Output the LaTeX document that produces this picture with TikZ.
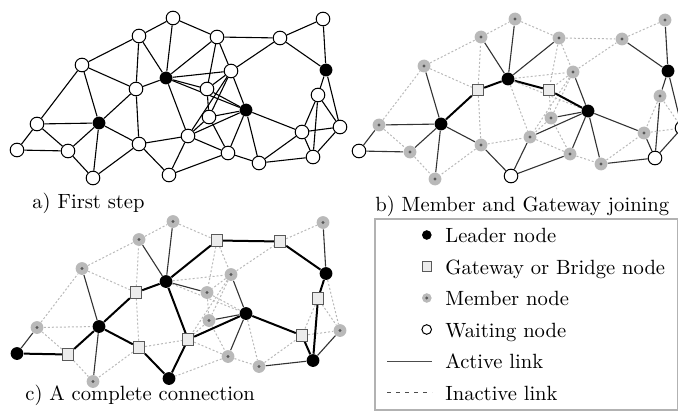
\documentclass[tikz,border=0pt]{standalone}
\usetikzlibrary{positioning,backgrounds}

% node: number / x / y / role in a) / role in b) / role in c)
\def\netnodes{1/17/150/waiting/waiting/leader, 2/37/124/waiting/member/member,
  3/68/151/waiting/member/gateway, 4/99/123/leader/leader/leader,
  5/82/65/waiting/member/member, 6/136/89/waiting/gateway/gateway,
  7/139/36/waiting/member/member, 8/139/144/waiting/member/gateway,
  9/166/78/leader/leader/leader, 10/173/18/waiting/member/member,
  11/217/37/waiting/member/gateway, 12/231/71/waiting/member/member,
  13/207/89/waiting/gateway/member, 14/209/117/waiting/member/member,
  15/188/136/waiting/member/gateway, 16/246/110/leader/leader/leader,
  17/228/153/waiting/member/member, 18/259/163/waiting/member/member,
  19/280/38/waiting/member/gateway, 20/323/19/waiting/member/member,
  21/326/70/leader/leader/leader, 22/318/95/waiting/member/gateway,
  23/302/132/waiting/member/gateway, 24/340/127/waiting/waiting/member,
  25/313/157/waiting/waiting/leader, 26/93/178/waiting/member/member,
  27/169/175/waiting/waiting/leader}

% link: from / to / style in b) / style in c)
\def\netlinks{1/2/act/act, 1/3/act/gwl, 2/3/idle/idle, 2/4/act/idle, 2/5/idle/idle,
  3/4/act/gwl, 3/26/idle/idle, 4/5/act/act, 4/6/gwl/gwl, 4/8/act/gwl, 4/26/act/act,
  5/6/idle/idle, 5/7/idle/idle, 6/7/idle/idle, 6/8/idle/idle, 6/9/gwl/gwl,
  7/9/act/act, 7/10/idle/idle, 8/15/idle/idle, 8/26/idle/idle, 8/27/act/gwl,
  9/10/act/act, 9/11/act/gwl, 9/12/idle/idle, 9/13/gwl/act, 9/15/idle/gwl,
  9/16/idle/idle, 10/11/idle/idle, 11/12/idle/idle, 11/13/idle/idle,
  11/19/idle/gwl, 12/13/idle/idle, 12/14/idle/idle, 12/15/idle/idle,
  12/16/act/act, 12/19/idle/idle, 13/14/idle/idle, 13/16/gwl/idle,
  14/15/idle/idle, 14/16/act/act, 14/17/idle/idle, 15/16/act/gwl,
  15/17/idle/idle, 15/27/act/gwl, 16/17/act/act, 16/18/act/idle,
  16/23/act/gwl, 17/18/idle/idle, 17/27/act/idle, 18/23/idle/idle,
  18/25/act/act, 19/20/idle/idle, 19/21/act/gwl, 20/21/act/act,
  21/22/act/gwl, 21/24/act/idle, 22/23/idle/idle, 22/24/idle/idle,
  22/25/act/gwl, 23/24/idle/idle, 23/25/act/gwl, 24/25/act/act}

\tikzset{
  waiting/.style={circle, draw, fill=white, line width=0.5pt, minimum size=6.8pt, inner sep=0pt},
  leader/.style={circle, fill=black, minimum size=6.4pt, inner sep=0pt},
  member/.style={circle, fill=gray!55, minimum size=6.4pt, inner sep=0pt,
    path picture={\fill[gray!70!black] (path picture bounding box.center) circle (0.8pt);}},
  gateway/.style={rectangle, draw=gray!70!black, fill=gray!15, line width=0.4pt,
    minimum size=5.8pt, inner sep=0pt},
  legsym/.style={minimum size=4.8pt},
  lnk/.style={line width=0.55pt},
  act/.style={line width=0.55pt, black!80},
  gwl/.style={line width=1pt},
  idle/.style={line width=0.5pt, gray!55, dash pattern=on 1pt off 1pt},
  captext/.style={anchor=base west, inner sep=0pt},
  legtext/.style={anchor=base west, inner sep=0pt, text height=8.5pt, text depth=1pt}
}

\begin{document}
\begin{tikzpicture}[x=0.5pt, y=-0.5pt, font=\fontsize{10.3}{12}\selectfont]
\useasboundingbox (0,0) rectangle (678,411);

% a) first step
\foreach \n/\x/\y/\ra/\rb/\rc in \netnodes
  \node[\ra] (a\n) at (\x,\y) {};
% b) member and gateway joining
\begin{scope}[xshift=171pt, yshift=-0.5pt]
\foreach \n/\x/\y/\ra/\rb/\rc in \netnodes
  \node[\rb] (b\n) at (\x,\y) {};
\end{scope}
% c) complete connection
\begin{scope}[yshift=-101.75pt]
\foreach \n/\x/\y/\ra/\rb/\rc in \netnodes
  \node[\rc] (c\n) at (\x,\y) {};
\end{scope}

\begin{scope}[on background layer]
\foreach \i/\j/\sb/\sc in \netlinks {
  \draw[lnk] (a\i) -- (a\j);
  \draw[\sb] (b\i) -- (b\j);
  \draw[\sc] (c\i) -- (c\j);
}
\end{scope}

\node[captext] (capa) at (32,208) {a) First step};
\node[captext] (capb) at (375,211.5) {b) Member and Gateway joining};
\node[captext] (capc) at (25,400) {c) A complete connection};

% legend
\draw[gray!60, line width=0.6pt] (375,219) rectangle (677.5,410);
\node[legtext] (lgl) at (445,242.5) {Leader node};
\node[legtext] (lgg) at (445,274) {Gateway or Bridge node};
\node[legtext] (lgm) at (445,305.5) {Member node};
\node[legtext] (lgw) at (445,337) {Waiting node};
\node[legtext] (lga) at (445,368.5) {Active link};
\node[legtext] (lgi) at (445,400) {Inactive link};
\node[leader, legsym, left=6.5pt of lgl] (sl) {};
\node[gateway, legsym, left=6.5pt of lgg] (sg) {};
\node[member, legsym, left=6.5pt of lgm] (sm) {};
\node[waiting, legsym, left=6.5pt of lgw] (sw) {};
\coordinate[left=6.5pt of lga] (la1);
\coordinate[left=22.5pt of la1] (la0);
\coordinate[left=6.5pt of lgi] (li1);
\coordinate[left=22.5pt of li1] (li0);
\draw[gray!60!black, line width=0.5pt] (la0) -- (la1);
\draw[gray!60!black, line width=0.5pt, dash pattern=on 2pt off 2.5pt] (li0) -- (li1);
\end{tikzpicture}
\end{document}
